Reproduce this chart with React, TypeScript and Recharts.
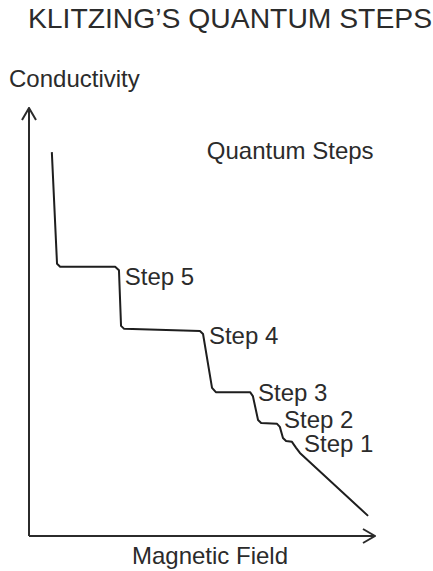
import React from 'react';
import { LineChart, Line, XAxis, YAxis, ReferenceDot } from 'recharts';

// Magnetic field (x) and conductivity (y) along the curve, in arbitrary units 0-100
const fieldValues = [6.6, 8.1, 9.0, 24.9, 26.0, 26.6, 27.5, 49.4, 50.3, 52.9, 54.0, 63.9, 64.7, 66.2, 67.1, 71.7, 72.5, 73.4, 74.3, 76.0, 77.2, 78.3, 98.0];
const conductivityValues = [89.7, 63.6, 62.9, 62.9, 62.1, 49.1, 48.4, 47.9, 47.2, 34.6, 33.6, 33.6, 32.7, 27.1, 26.4, 26.2, 25.5, 22.9, 22.2, 22.0, 20.6, 19.4, 4.7];

const stepNames = ['Step 5', 'Step 4', 'Step 3', 'Step 2', 'Step 1'];
const stepLabelField = [27.7, 52.0, 66.2, 73.7, 79.5];
const stepLabelConductivity = [58.6, 44.9, 31.5, 25.2, 19.6];

const annotationText = 'Quantum Steps';
const annotationField = 51.4;
const annotationConductivity = 88.1;

const titleText = 'KLITZING\u2019S QUANTUM STEPS';
const yAxisTitle = 'Conductivity';
const xAxisTitle = 'Magnetic Field';

const data = fieldValues.map((f, i) => ({ field: f, conductivity: conductivityValues[i] }));

const FONT = '"Liberation Sans", Arial, Helvetica, sans-serif';
const INK = '#2b2b2b';

const textShape = (label: string) => (props: any) => (
  <text x={props.cx} y={props.cy} fontFamily={FONT} fontSize={24} fill={INK} textAnchor="start">
    {label}
  </text>
);

export default function App() {
  return (
    <div style={{ position: 'absolute', left: 0, top: 0, width: 433, height: 571, background: '#fff' }}>
      <LineChart width={433} height={571} data={data} margin={{ top: 108, right: 58, bottom: 34, left: 28 }}>
        <defs>
          <marker id="chev" viewBox="0 0 14 16" refX="13" refY="8" markerWidth="14" markerHeight="16" markerUnits="userSpaceOnUse" orient="auto-start-reverse">
            <path d="M1,1 L13,8 L1,15" fill="none" stroke={INK} strokeWidth={2} />
          </marker>
        </defs>
        <text x={230} y={28} textAnchor="middle" fontFamily={FONT} fontSize={28.3} fill={INK}>{titleText}</text>
        <text x={9} y={87} textAnchor="start" fontFamily={FONT} fontSize={24} fill={INK}>{yAxisTitle}</text>
        <text x={210} y={564} textAnchor="middle" fontFamily={FONT} fontSize={24} fill={INK}>{xAxisTitle}</text>
        <XAxis
          type="number"
          dataKey="field"
          domain={[0, 100]}
          tick={false}
          tickLine={false}
          height={1}
          axisLine={{ stroke: INK, strokeWidth: 2, markerEnd: 'url(#chev)' }}
        />
        <YAxis
          type="number"
          domain={[0, 100]}
          tick={false}
          tickLine={false}
          width={1}
          axisLine={{ stroke: INK, strokeWidth: 2, markerStart: 'url(#chev)' }}
        />
        <Line
          type="linear"
          dataKey="conductivity"
          stroke="#1e1e1e"
          strokeWidth={2}
          strokeLinejoin="round"
          dot={false}
          activeDot={false}
          isAnimationActive={false}
        />
        {stepNames.map((name, i) => (
          <ReferenceDot
            key={name}
            x={stepLabelField[i]}
            y={stepLabelConductivity[i]}
            r={0}
            shape={textShape(name)}
          />
        ))}
        <ReferenceDot x={annotationField} y={annotationConductivity} r={0} shape={textShape(annotationText)} />
      </LineChart>
    </div>
  );
}
